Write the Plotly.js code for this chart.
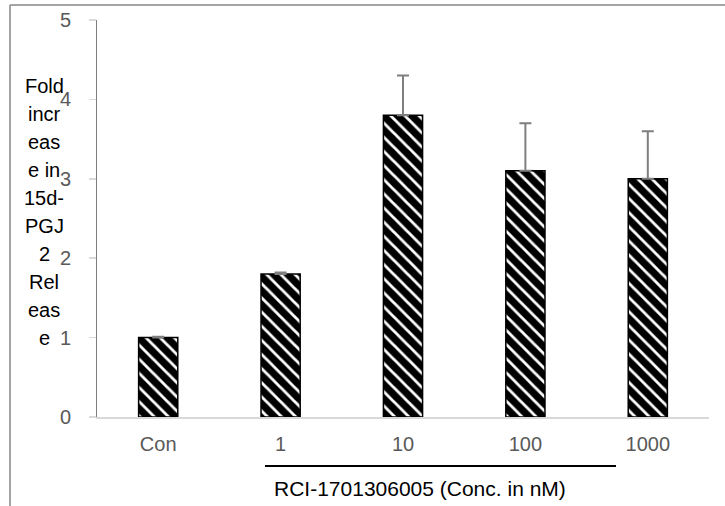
<!DOCTYPE html>
<html>
<head>
<meta charset="utf-8">
<script src="https://cdn.plot.ly/plotly-3.0.1.min.js"></script>
<style>
html,body{margin:0;padding:0;background:#fff;}
#chart{width:725px;height:506px;}
</style>
</head>
<body>
<div id="chart"></div>
<script>
const categories = ["Con", "1", "10", "100", "1000"];
const foldIncrease = [1.0, 1.8, 3.8, 3.1, 3.0];
const errorUp = [0.01, 0.02, 0.5, 0.6, 0.6];
const yTickVals = [0, 1, 2, 3, 4, 5];
const yTitleLines = ["Fold", "incr", "eas", "e in", "15d-", "PGJ", "2", "Rel", "eas", "e"];
const xTitleText = "RCI-1701306005 (Conc. in nM)";

const W = 725, H = 506;
const mL = 97, mR = 16, mT = 20, mB = 89;
const pw = W - mL - mR, ph = H - mT - mB;
const px2x = p => (p - mL) / pw;
const py2y = p => (H - mB - p) / ph;

const FONT = "Liberation Sans, Arial, sans-serif";

const annotations = yTitleLines.map((t, i) => ({
  text: t, xref: "paper", yref: "paper",
  x: px2x(44), y: py2y(86 + 28 * i),
  xanchor: "center", yanchor: "middle", showarrow: false,
  font: {family: FONT, size: 20, color: "#000"}
}));
annotations.push({
  text: xTitleText, xref: "paper", yref: "paper",
  x: px2x(420), y: py2y(488), xanchor: "center", yanchor: "middle",
  showarrow: false, font: {family: FONT, size: 21, color: "#000"}
});

const shapes = [
  {type: "line", xref: "paper", yref: "paper", x0: px2x(265), x1: px2x(616), y0: py2y(466), y1: py2y(466),
   line: {color: "#000", width: 2}},
  {type: "line", xref: "paper", yref: "paper", x0: px2x(10), x1: px2x(10), y0: py2y(5), y1: py2y(510),
   line: {color: "#868686", width: 1.5}},
  {type: "line", xref: "paper", yref: "paper", x0: px2x(10), x1: px2x(730), y0: py2y(5), y1: py2y(5),
   line: {color: "#868686", width: 1.5}}
];

const trace = {
  type: "bar", x: categories, y: foldIncrease,
  marker: {
    color: "#000",
    line: {color: "#000", width: 1.5},
    pattern: {shape: "\\", fgcolor: "#fff", bgcolor: "#000", fgopacity: 1, size: 10, solidity: 0.28, fillmode: "overlay"}
  },
  error_y: {type: "data", symmetric: false, array: errorUp, arrayminus: errorUp.map(() => 0),
    color: "#7f7f7f", thickness: 2, width: 6},
  hoverinfo: "none"
};

const layout = {
  width: W, height: H,
  margin: {l: mL, r: mR, t: mT, b: mB, pad: 0},
  paper_bgcolor: "#fff", plot_bgcolor: "#fff",
  showlegend: false, bargap: 0.68,
  font: {family: FONT, size: 20, color: "#595959"},
  xaxis: {
    type: "category", showgrid: false, zeroline: false,
    showline: true, linecolor: "#d9d9d9", linewidth: 1.5,
    ticks: "", ticklabelstandoff: 8,
    tickfont: {family: FONT, size: 20, color: "#595959"}
  },
  yaxis: {
    range: [0, 5], tickvals: yTickVals, showgrid: false, zeroline: false,
    showline: true, linecolor: "#7f7f7f", linewidth: 1,
    ticks: "outside", ticklen: 7, tickcolor: "#d9d9d9", tickwidth: 1.5,
    ticklabelstandoff: 14,
    tickfont: {family: FONT, size: 20, color: "#595959"}
  },
  annotations: annotations,
  shapes: shapes
};

Plotly.newPlot("chart", [trace], layout, {displayModeBar: false, staticPlot: true});
</script>
</body>
</html>
